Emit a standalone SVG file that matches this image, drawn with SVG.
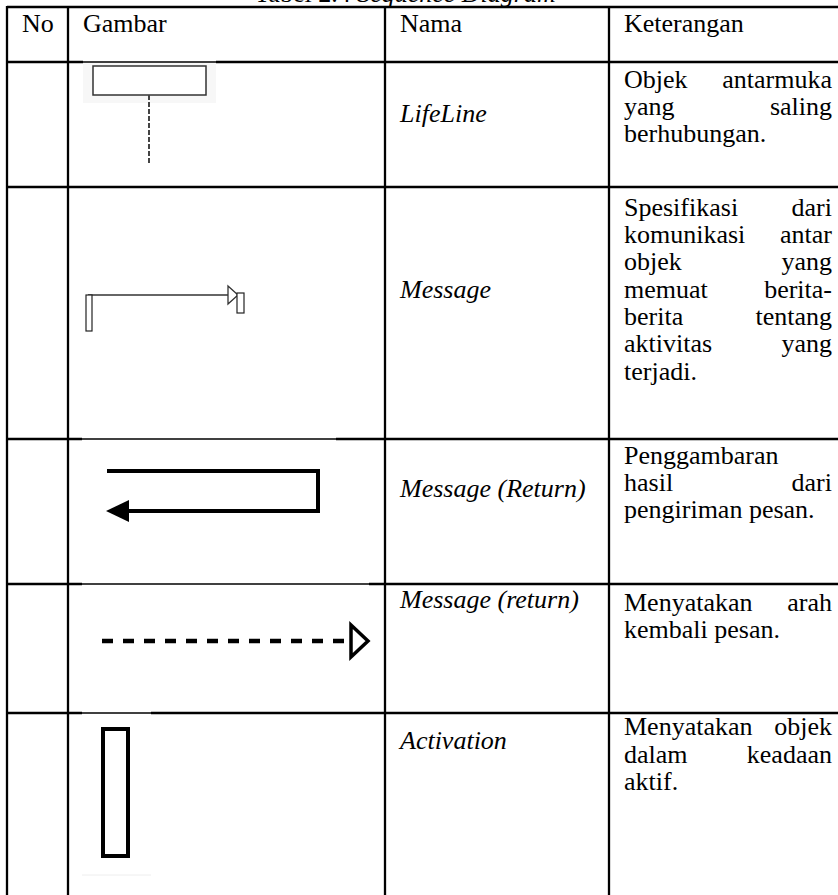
<svg xmlns="http://www.w3.org/2000/svg" width="838" height="895" viewBox="0 0 838 895">
<style>
.t{font-family:"Liberation Serif","Times New Roman",serif;font-size:26px;fill:#000}
.i{font-style:italic}
.b{stroke:#000;stroke-width:2.3;fill:none}
.bt{stroke:#000;stroke-width:1.6;fill:none}
.e{text-anchor:end}
</style>
<rect x="0" y="0" width="838" height="895" fill="#fff"/>
<text class="t" x="405" y="2" text-anchor="middle">Tabel 2.4 <tspan class="i">Sequence Diagram</tspan></text>
<g id="grid">
<line class="b" x1="7" y1="7" x2="838" y2="7"/>
<line class="b" x1="7" y1="62" x2="83" y2="62"/><line class="bt" x1="83" y1="62" x2="216" y2="62"/><line class="b" x1="216" y1="62" x2="838" y2="62"/>
<line class="b" x1="7" y1="187" x2="838" y2="187"/>
<line class="b" x1="7" y1="439" x2="82" y2="439"/><line class="bt" x1="82" y1="439" x2="336" y2="439"/><line class="b" x1="336" y1="439" x2="838" y2="439"/>
<line class="b" x1="7" y1="584" x2="82" y2="584"/><line class="bt" x1="82" y1="584" x2="369" y2="584"/><line class="b" x1="369" y1="584" x2="838" y2="584"/>
<line class="b" x1="7" y1="713" x2="82" y2="713"/><line class="bt" x1="82" y1="713" x2="151" y2="713"/><line class="b" x1="151" y1="713" x2="838" y2="713"/>
<line class="b" x1="7" y1="6" x2="7" y2="895"/>
<line class="b" x1="68" y1="6" x2="68" y2="895"/>
<line class="b" x1="385" y1="6" x2="385" y2="895"/>
<line class="b" x1="609" y1="6" x2="609" y2="895"/>
</g>
<g id="header">
<text class="t" x="22" y="32">No</text>
<text class="t" x="83" y="32">Gambar</text>
<text class="t" x="400" y="32">Nama</text>
<text class="t" x="624" y="32">Keterangan</text>
</g>
<g id="row-lifeline">
<rect x="83" y="63" width="133" height="40" fill="#f7f7f7"/>
<rect x="93" y="66" width="113" height="29" fill="#fff" stroke="#333" stroke-width="1.5"/>
<line x1="149" y1="95" x2="149" y2="163" stroke="#444" stroke-width="2" stroke-dasharray="5 2"/>
<text class="t i" x="400" y="122">LifeLine</text>
<text class="t" x="624" y="88">Objek</text><text class="t e" x="832" y="88">antarmuka</text>
<text class="t" x="624" y="115">yang</text><text class="t e" x="832" y="115">saling</text>
<text class="t" x="624" y="142">berhubungan.</text>
</g>
<g id="row-message">
<line x1="88" y1="295" x2="228" y2="295" stroke="#333" stroke-width="1.3"/>
<rect x="86" y="295" width="6" height="36" fill="#fff" stroke="#222" stroke-width="1.2"/>
<polygon points="228,286 238,295 228,304" fill="#fff" stroke="#333" stroke-width="1.3"/>
<rect x="237" y="293" width="7" height="20" fill="#fff" stroke="#222" stroke-width="1.2"/>
<text class="t i" x="400" y="298">Message</text>
<text class="t" x="624" y="216">Spesifikasi</text><text class="t e" x="832" y="216">dari</text>
<text class="t" x="624" y="243">komunikasi</text><text class="t e" x="832" y="243">antar</text>
<text class="t" x="624" y="270">objek</text><text class="t e" x="832" y="270">yang</text>
<text class="t" x="624" y="298">memuat</text><text class="t e" x="832" y="298">berita-</text>
<text class="t" x="624" y="325">berita</text><text class="t e" x="832" y="325">tentang</text>
<text class="t" x="624" y="352">aktivitas</text><text class="t e" x="832" y="352">yang</text>
<text class="t" x="624" y="380">terjadi.</text>
</g>
<g id="row-return">
<path d="M107,471 H318 V511 H125" fill="none" stroke="#000" stroke-width="4"/>
<polygon points="106,511 129,500 129,522" fill="#000"/>
<text class="t i" x="400" y="497">Message (Return)</text>
<text class="t" x="624" y="464">Penggambaran</text>
<text class="t" x="624" y="491">hasil</text><text class="t e" x="832" y="491">dari</text>
<text class="t" x="624" y="518">pengiriman pesan.</text>
</g>
<g id="row-return-dashed">
<line x1="102" y1="641" x2="350" y2="641" stroke="#000" stroke-width="4.5" stroke-dasharray="11 10"/>
<polygon points="351,625 368,641 351,657" fill="#fff" stroke="#000" stroke-width="3.5"/>
<text class="t i" x="400" y="608">Message (return)</text>
<text class="t" x="624" y="611">Menyatakan</text><text class="t e" x="832" y="611">arah</text>
<text class="t" x="624" y="638">kembali pesan.</text>
</g>
<g id="row-activation">
<rect x="103" y="729" width="25" height="127" fill="#fff" stroke="#000" stroke-width="4"/>
<line x1="82" y1="875" x2="151" y2="875" stroke="#eee" stroke-width="1"/>
<text class="t i" x="400" y="749">Activation</text>
<text class="t" x="624" y="735">Menyatakan</text><text class="t e" x="832" y="735">objek</text>
<text class="t" x="624" y="763">dalam</text><text class="t e" x="832" y="763">keadaan</text>
<text class="t" x="624" y="790">aktif.</text>
</g>
</svg>
